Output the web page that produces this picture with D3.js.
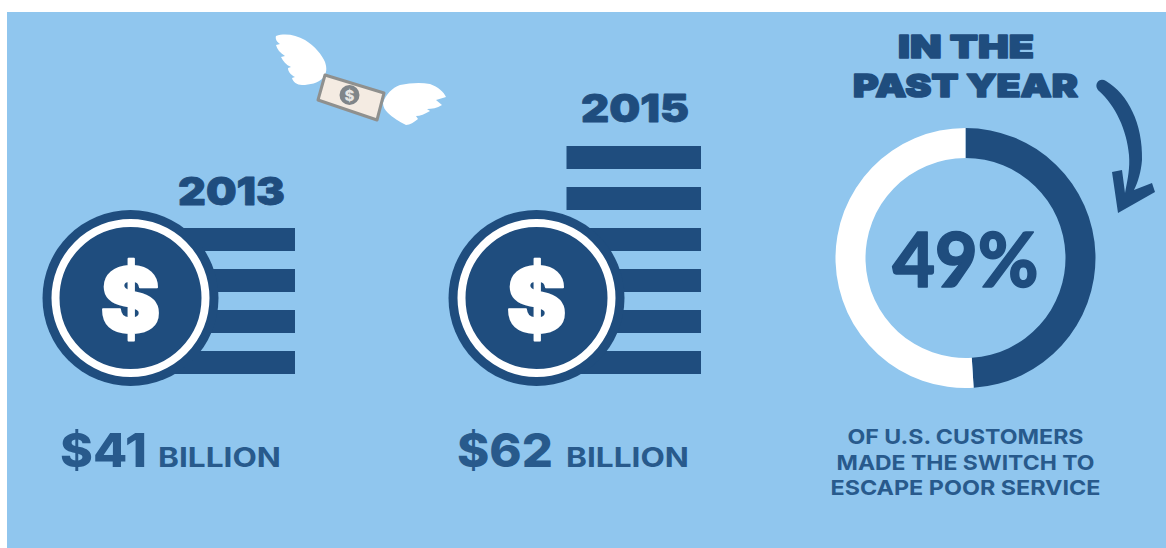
<!DOCTYPE html>
<html>
<head>
<meta charset="utf-8">
<script src="https://cdn.jsdelivr.net/npm/d3@7"></script>
<style>
html,body{margin:0;padding:0;background:#fff;}
svg{display:block;}
text{font-family:Inter,Lato,sans-serif;stroke-linejoin:round;}
</style>
</head>
<body>
<svg id="chart" width="1166" height="548"></svg>
<script>
// Yearly totals, each drawn as a coin with a stack of bars
const years = ["2013", "2015"];
const billions = [41, 62];
const billLabels = ["$41", "$62"];
const unitLabel = "BILLION";

// Share of customers who switched
const switchedShare = [49, 51];
const headlineLines = ["IN THE", "PAST YEAR"];
const captionLines = ["OF U.S. CUSTOMERS", "MADE THE SWITCH TO", "ESCAPE POOR SERVICE"];

const DARK = "#1f4d7e", SOFT = "#285a8c", SKY = "#90c6ee", WHITE = "#ffffff";
const svg = d3.select("#chart");

svg.append("rect").attr("x", 7).attr("y", 12).attr("width", 1159).attr("height", 536).attr("fill", SKY);

// One bar stands for roughly ten billion; the count scale places bars upward from the baseline
const barsFor = v => Math.round(v / 10);
const barY = d3.scaleLinear().domain([0, 1]).range([351, 310]);
const BAR_H = 23;

// Text squeezed or stretched to a known width, with an optional outline for extra weight
function fitText(parent, str, x, baseline, width, size, weight, fill, anchor, outline) {
  return parent.append("text")
    .text(str)
    .attr("x", x).attr("y", baseline)
    .attr("font-size", size).attr("font-weight", weight)
    .attr("fill", fill)
    .attr("stroke", outline ? fill : "none")
    .attr("stroke-width", outline || 0)
    .attr("text-anchor", anchor || "start")
    .attr("textLength", width)
    .attr("lengthAdjust", "spacingAndGlyphs");
}

const stackX = d3.scalePoint().domain(years).range([130.5, 536.5]);
const barEnd = { "2013": 295, "2015": 701 };
const yearLabelPos = { "2013": [178, 205, 107], "2015": [581, 122, 108] };
const valuePos = { "2013": [60, 467, 87, 158, 123], "2015": [457, 467, 96, 566, 123] };

years.forEach((yr, i) => {
  const g = svg.append("g");
  const cx = stackX(yr), cy = 298;
  const n = barsFor(billions[i]);

  g.selectAll("rect.bar").data(d3.range(n)).join("rect")
    .attr("class", "bar")
    .attr("x", cx + 30)
    .attr("y", d => barY(d))
    .attr("width", d => barEnd[yr] - cx - 30)
    .attr("height", BAR_H)
    .attr("fill", DARK);

  g.append("circle").attr("cx", cx).attr("cy", cy).attr("r", 88).attr("fill", DARK);
  g.append("circle").attr("cx", cx).attr("cy", cy).attr("r", 75)
    .attr("fill", DARK).attr("stroke", WHITE).attr("stroke-width", 8);

  g.append("text").text("$")
    .attr("x", cx).attr("y", cy + 34)
    .attr("text-anchor", "middle")
    .attr("font-size", 90).attr("font-weight", 900)
    .attr("fill", WHITE).attr("stroke", WHITE).attr("stroke-width", 2);

  const yl = yearLabelPos[yr];
  fitText(g, yr, yl[0], yl[1], yl[2], 38, 900, DARK, "start", 0.8);

  const vp = valuePos[yr];
  fitText(g, billLabels[i], vp[0], vp[1], vp[2], 47, 800, SOFT);
  fitText(g, unitLabel, vp[3], vp[1], vp[4], 27, 700, SOFT);
});

// Donut: dark share runs clockwise from twelve o'clock
const donut = svg.append("g").attr("transform", "translate(965.5,258)");
const pie = d3.pie().sort(null)(switchedShare);
const arc = d3.arc().innerRadius(100).outerRadius(130);
donut.selectAll("path").data(pie).join("path")
  .attr("d", arc)
  .attr("fill", (d, i) => i === 0 ? DARK : WHITE);
fitText(donut, switchedShare[0] + "%", 0, 29, 146, 77, 900, DARK, "middle", 1.5)
  .style("font-family", "Lato, Inter, sans-serif");

fitText(svg, headlineLines[0], 898, 58, 136, 32, 900, DARK, "start", 1.6);
fitText(svg, headlineLines[1], 853, 97, 225, 32, 900, DARK, "start", 1.6);

const capBase = [444, 470, 495], capWidth = [236, 258, 270];
captionLines.forEach((line, i) => {
  fitText(svg, line, 965.5, capBase[i], capWidth[i], 20.5, 700, SOFT, "middle");
});

// Curved arrow pointing at the donut, tapering toward its tail
svg.append("path")
  .attr("d", "M1097,83 C1099,79 1103,79 1106,81 C1128,94 1143,124 1142,160 C1141,172 1138,182 1134,190 L1152,183 L1155,192 L1118,213 L1112,172 L1122,170 L1125,193 C1128,178 1130,168 1129,155 C1127,130 1115,105 1099,91 C1096,88 1096,85 1097,83 Z")
  .attr("fill", DARK);

// Winged banknote: feather tips are small notches along the trailing edge of each wing
const note = svg.append("g");
note.append("path")
  .attr("d", "M276,36 C285,33 296,35 305,40 C315,46 322,55 325,62 C327,68 327,73 323,78 C318,83 310,85 302,85 C297,85 293,82 292,78 L295,77 C291,75 288,72 288,68 L291,67 C286,65 283,61 281,57 L285,56 C280,53 277,49 276,45 L280,44 C277,42 275,39 276,36 Z")
  .attr("fill", WHITE);
note.append("path")
  .attr("d", "M383,103 C386,94 392,88 400,85 C410,83 420,82 430,84 C438,87 444,92 446,97 L436,100 L442,105 C437,108 432,109 427,109 L430,111 C425,114 420,116 416,116 L418,119 C414,122 410,125 406,125 C400,122 392,117 388,113 C385,110 383,107 383,103 Z")
  .attr("fill", WHITE);
note.append("path")
  .attr("d", "M325,75 L384,93 L377,120 L318,100 Z")
  .attr("fill", "#f4ebe2").attr("stroke", "#8f908e").attr("stroke-width", 3).attr("stroke-linejoin", "round");
note.append("circle").attr("cx", 349.5).attr("cy", 95).attr("r", 10).attr("fill", "#7f8589");
note.append("text").text("$").attr("x", 349.5).attr("y", 100.5).attr("text-anchor", "middle")
  .attr("font-size", 15).attr("font-weight", 800).attr("fill", "#e6e6e4");
</script>
</body>
</html>
